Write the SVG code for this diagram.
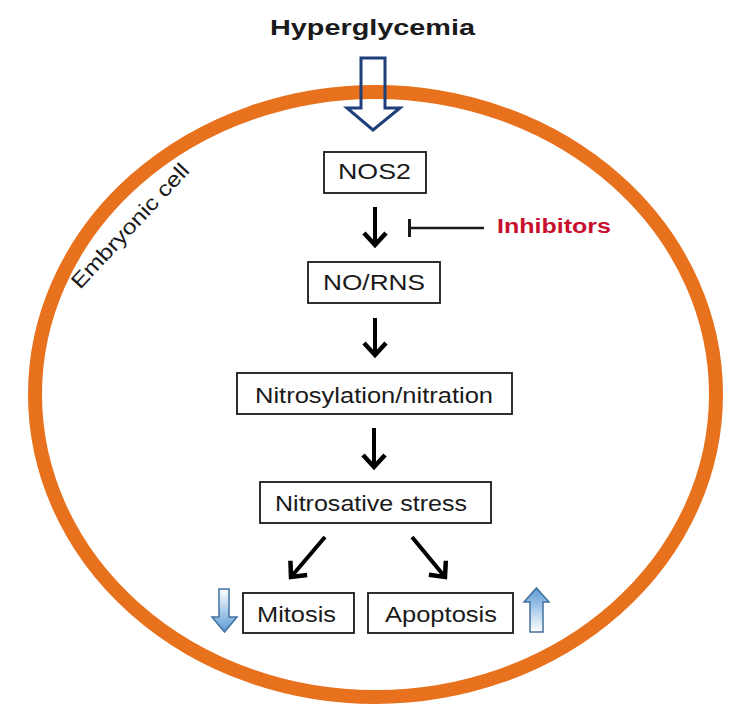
<svg xmlns="http://www.w3.org/2000/svg" width="752" height="710" viewBox="0 0 752 710">
<defs>
<style>
.box{fill:#fff;stroke:#1a1a1a;stroke-width:1.8}
.t{font-family:"Liberation Sans",Arial,sans-serif;font-size:22px;fill:#1a1a1a;text-anchor:middle}
.conn{stroke:#000;stroke-width:4;fill:none}
</style>
<marker id="chev" viewBox="-15 -15 30 30" markerWidth="30" markerHeight="30" refX="0" refY="0" orient="auto" markerUnits="userSpaceOnUse">
<path d="M-12,-11 L0,0 L-12,11" fill="none" stroke="#000" stroke-width="4.5"/>
</marker>
<linearGradient id="gDown" x1="0" y1="0" x2="0" y2="1">
<stop offset="0" stop-color="#ffffff"/>
<stop offset="1" stop-color="#5b9bd5"/>
</linearGradient>
<linearGradient id="gUp" x1="0" y1="0" x2="0" y2="1">
<stop offset="0" stop-color="#5b9bd5"/>
<stop offset="1" stop-color="#ffffff"/>
</linearGradient>
</defs>
<rect width="752" height="710" fill="#fff"/>
<g id="cell">
<ellipse cx="375.5" cy="394.5" rx="340.5" ry="302.5" fill="none" stroke="#e8711e" stroke-width="14"/>
<text transform="translate(80,290) rotate(-47)" font-family="Liberation Sans,Arial,sans-serif" font-size="21" fill="#1a1a1a" textLength="162" lengthAdjust="spacingAndGlyphs">Embryonic cell</text>
</g>
<g id="hyperglycemia">
<text x="372.5" y="35" font-family="Liberation Sans,Arial,sans-serif" font-weight="bold" font-size="22" fill="#1a1a1a" text-anchor="middle" textLength="205" lengthAdjust="spacingAndGlyphs">Hyperglycemia</text>
<path d="M361,58 H385 V108 H400 L373,130 L347,108 H361 Z" fill="none" stroke="#1f3f7a" stroke-width="3" stroke-linejoin="miter"/>
</g>
<g id="nos2">
<rect class="box" x="324" y="152" width="102" height="41"/>
<text class="t" x="374.5" y="179" textLength="73" lengthAdjust="spacingAndGlyphs">NOS2</text>
</g>
<g id="inhibitors">
<text x="554" y="233" font-family="Liberation Sans,Arial,sans-serif" font-weight="bold" font-size="20" fill="#c8102e" text-anchor="middle" textLength="114" lengthAdjust="spacingAndGlyphs">Inhibitors</text>
</g>
<g id="norns">
<rect class="box" x="308" y="262" width="132" height="41"/>
<text class="t" x="374" y="290" textLength="102" lengthAdjust="spacingAndGlyphs">NO/RNS</text>
</g>
<g id="nitrosylation">
<rect class="box" x="237" y="373" width="275" height="41"/>
<text class="t" x="374" y="403" textLength="238" lengthAdjust="spacingAndGlyphs">Nitrosylation/nitration</text>
</g>
<g id="nitrosative">
<rect class="box" x="260" y="482" width="231" height="41"/>
<text class="t" x="371" y="511" textLength="192" lengthAdjust="spacingAndGlyphs">Nitrosative stress</text>
</g>
<g id="mitosis">
<rect class="box" x="243" y="593" width="111" height="40"/>
<text class="t" x="296.5" y="622" textLength="79" lengthAdjust="spacingAndGlyphs">Mitosis</text>
<path d="M219,589 H229 V617 H237 L224.5,632 L212,617 H219 Z" fill="url(#gDown)" stroke="#41709f" stroke-width="1.5"/>
</g>
<g id="apoptosis">
<rect class="box" x="368" y="593" width="145" height="40"/>
<text class="t" x="441" y="622" textLength="112" lengthAdjust="spacingAndGlyphs">Apoptosis</text>
<path d="M536.5,588 L549,602 H543 V632 H530 V602 H524 Z" fill="url(#gUp)" stroke="#41709f" stroke-width="1.5"/>
</g>
<g id="connectors">
<line class="conn" x1="375" y1="207" x2="375" y2="245" marker-end="url(#chev)"/>
<line class="conn" x1="375" y1="318" x2="375" y2="355" marker-end="url(#chev)"/>
<line class="conn" x1="374" y1="428" x2="374" y2="467" marker-end="url(#chev)"/>
<line class="conn" x1="325" y1="537" x2="291" y2="577" marker-end="url(#chev)"/>
<line class="conn" x1="412" y1="537" x2="445" y2="577" marker-end="url(#chev)"/>
<line x1="410" y1="228" x2="484" y2="228" stroke="#1a1a1a" stroke-width="2.5"/>
<line x1="409.5" y1="219" x2="409.5" y2="237" stroke="#1a1a1a" stroke-width="3"/>
</g>
</svg>
